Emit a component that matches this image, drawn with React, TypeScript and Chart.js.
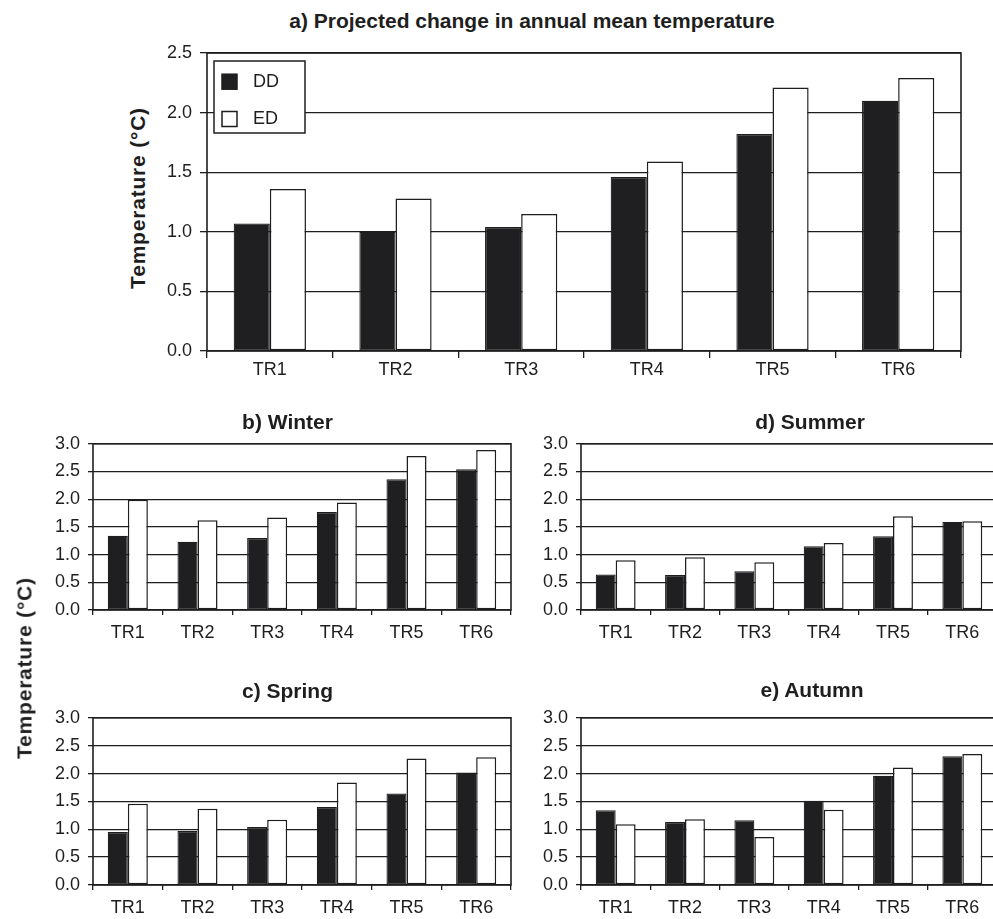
import React, { useEffect, useRef } from "react";
import { Chart, registerables } from "chart.js";

Chart.register(...registerables);

const FONT = '"Liberation Sans", Arial, Helvetica, sans-serif';
const INK = "#1e1e1e";
const DD_FILL = "#1f1f22";
const ED_FILL = "#ffffff";

// ---------- data ----------
const categories = ["TR1", "TR2", "TR3", "TR4", "TR5", "TR6"];
const seriesNames = ["DD", "ED"];

const annualDD = [1.07, 1.0, 1.04, 1.46, 1.82, 2.1];
const annualED = [1.36, 1.28, 1.15, 1.59, 2.21, 2.29];

const winterDD = [1.34, 1.23, 1.3, 1.77, 2.36, 2.54];
const winterED = [1.99, 1.62, 1.67, 1.94, 2.78, 2.89];

const summerDD = [0.64, 0.63, 0.7, 1.15, 1.33, 1.59];
const summerED = [0.9, 0.95, 0.86, 1.21, 1.69, 1.6];

const springDD = [0.95, 0.97, 1.04, 1.4, 1.64, 2.02];
const springED = [1.46, 1.37, 1.17, 1.84, 2.27, 2.29];

const autumnDD = [1.34, 1.13, 1.16, 1.51, 1.96, 2.31];
const autumnED = [1.09, 1.18, 0.86, 1.35, 2.11, 2.35];

const annualMax = 2.5;
const seasonMax = 3.0;
const tickStep = 0.5;

const mainTitle = "a) Projected change in annual mean temperature";
const yAxisTitle = "Temperature (°C)";
const winterTitle = "b) Winter";
const summerTitle = "d) Summer";
const springTitle = "c) Spring";
const autumnTitle = "e) Autumn";

// ---------- plugins ----------
const framePlugin = {
  id: "frame",
  afterDatasetsDraw(chart: any) {
    const { ctx, chartArea: a } = chart;
    ctx.save();
    ctx.strokeStyle = INK;
    ctx.lineWidth = 1.6;
    ctx.strokeRect(a.left, a.top, a.right - a.left, a.bottom - a.top);
    ctx.restore();
  },
};

const boxLegendPlugin = {
  id: "boxLegend",
  afterDraw(chart: any, _args: any, opts: any) {
    if (!opts || !opts.display) return;
    const { ctx, chartArea: a } = chart;
    const x = a.left + 7;
    const y = a.top + 8;
    const w = 91;
    const h = 72;
    ctx.save();
    ctx.fillStyle = "#ffffff";
    ctx.fillRect(x, y, w, h);
    ctx.strokeStyle = INK;
    ctx.lineWidth = 1.5;
    ctx.strokeRect(x, y, w, h);
    ctx.font = `18px ${FONT}`;
    ctx.textBaseline = "middle";
    ctx.textAlign = "left";
    chart.data.datasets.forEach((ds: any, i: number) => {
      const cy = y + 20.7 + i * 37.3;
      ctx.fillStyle = ds.backgroundColor;
      ctx.fillRect(x + 8, cy - 7.5, 15, 15);
      ctx.lineWidth = 1.5;
      ctx.strokeStyle = INK;
      ctx.strokeRect(x + 8, cy - 7.5, 15, 15);
      ctx.fillStyle = INK;
      ctx.fillText(ds.label, x + 39, cy);
    });
    ctx.restore();
  },
};

type Geo = {
  left: number;
  top: number;
  width: number;
  height: number;
  yWidth: number;
  xHeight: number;
  padTop: number;
  padRight: number;
  yTick: number;
  yPad: number;
  xTick: number;
  xPad: number;
  yFont: number;
  xFont: number;
};

function makeConfig(dd: number[], ed: number[], yMax: number, g: Geo, legend: boolean): any {
  return {
    type: "bar",
    data: {
      labels: categories,
      datasets: [
        {
          label: seriesNames[0],
          data: dd,
          backgroundColor: DD_FILL,
          borderColor: INK,
          borderWidth: 1.2,
          borderSkipped: false,
          barPercentage: 1,
          categoryPercentage: 0.575,
        },
        {
          label: seriesNames[1],
          data: ed,
          backgroundColor: ED_FILL,
          borderColor: INK,
          borderWidth: 1.5,
          borderSkipped: false,
          barPercentage: 1,
          categoryPercentage: 0.575,
        },
      ],
    },
    options: {
      responsive: false,
      maintainAspectRatio: false,
      animation: false,
      events: [],
      layout: {
        autoPadding: false,
        padding: { top: g.padTop, right: g.padRight, left: 0, bottom: 0 },
      },
      plugins: {
        legend: { display: false },
        title: { display: false },
        tooltip: { enabled: false },
        boxLegend: { display: legend },
      },
      scales: {
        x: {
          type: "category",
          offset: true,
          grid: {
            display: true,
            offset: true,
            drawOnChartArea: false,
            drawTicks: true,
            tickLength: g.xTick,
            color: INK,
            lineWidth: 1.3,
          },
          border: { display: false },
          ticks: {
            color: INK,
            font: { family: FONT, size: g.xFont },
            padding: g.xPad,
            maxRotation: 0,
            autoSkip: false,
          },
          afterFit: (s: any) => {
            s.height = g.xHeight;
          },
        },
        y: {
          min: 0,
          max: yMax,
          grid: {
            color: INK,
            lineWidth: 1.3,
            drawTicks: true,
            tickLength: g.yTick,
          },
          border: { display: false },
          ticks: {
            stepSize: tickStep,
            color: INK,
            font: { family: FONT, size: g.yFont },
            padding: g.yPad,
            callback: (v: any) => Number(v).toFixed(1),
          },
          afterFit: (s: any) => {
            s.width = g.yWidth;
          },
        },
      },
    },
    plugins: [framePlugin, boxLegendPlugin],
  };
}

function BarPanel(props: { dd: number[]; ed: number[]; yMax: number; g: Geo; legend?: boolean }) {
  const ref = useRef<HTMLCanvasElement | null>(null);
  const { dd, ed, yMax, g, legend } = props;
  useEffect(() => {
    if (!ref.current) return;
    const chart = new Chart(ref.current, makeConfig(dd, ed, yMax, g, !!legend));
    return () => chart.destroy();
  }, []);
  return (
    <canvas
      ref={ref}
      width={g.width}
      height={g.height}
      style={{
        position: "absolute",
        left: g.left,
        top: g.top,
        width: g.width,
        height: g.height,
      }}
    />
  );
}

const mainGeo: Geo = {
  left: 150, top: 33, width: 823, height: 350,
  yWidth: 57, xHeight: 32, padTop: 20, padRight: 12,
  yTick: 7, yPad: 8, xTick: 7, xPad: 1, yFont: 18, xFont: 18,
};

const subBase = {
  yWidth: 60, padTop: 15, yTick: 5, yPad: 8, xTick: 5, xPad: 7.5, yFont: 18, xFont: 18,
};

const winterGeo: Geo = { ...subBase, left: 33, top: 425, width: 486, height: 220, xHeight: 35, padRight: 8 };
const summerGeo: Geo = { ...subBase, left: 521, top: 425, width: 476, height: 220, xHeight: 35, padRight: 0 };
const springGeo: Geo = { ...subBase, left: 33, top: 699, width: 486, height: 221, xHeight: 35, padRight: 8 };
const autumnGeo: Geo = { ...subBase, left: 521, top: 699, width: 476, height: 221, xHeight: 35, padRight: 0 };

function Label(props: { text: string; cx: number; cy: number; size: number; rotate?: boolean; spacing?: number }) {
  const { text, cx, cy, size, rotate, spacing } = props;
  return (
    <div
      style={{
        position: "absolute",
        left: cx,
        top: cy,
        transform: `translate(-50%, -50%)${rotate ? " rotate(-90deg)" : ""}`,
        fontFamily: FONT,
        fontWeight: "bold",
        fontSize: size,
        lineHeight: `${Math.round(size * 1.2)}px`,
        letterSpacing: spacing ? `${spacing}px` : undefined,
        color: INK,
        whiteSpace: "nowrap",
      }}
    >
      {text}
    </div>
  );
}

export default function App() {
  return (
    <div
      style={{
        position: "absolute",
        left: 0,
        top: 0,
        width: 993,
        height: 919,
        overflow: "hidden",
        background: "#ffffff",
      }}
    >
      <BarPanel dd={annualDD} ed={annualED} yMax={annualMax} g={mainGeo} legend />
      <BarPanel dd={winterDD} ed={winterED} yMax={seasonMax} g={winterGeo} />
      <BarPanel dd={summerDD} ed={summerED} yMax={seasonMax} g={summerGeo} />
      <BarPanel dd={springDD} ed={springED} yMax={seasonMax} g={springGeo} />
      <BarPanel dd={autumnDD} ed={autumnED} yMax={seasonMax} g={autumnGeo} />

      <Label text={mainTitle} cx={532} cy={20} size={21} />
      <Label text={yAxisTitle} cx={137} cy={198} size={21} rotate spacing={0.8} />
      <Label text={winterTitle} cx={287.5} cy={421} size={21} />
      <Label text={summerTitle} cx={810} cy={421} size={21} />
      <Label text={springTitle} cx={287.5} cy={690} size={21} />
      <Label text={autumnTitle} cx={812} cy={689} size={21} />
      <Label text={yAxisTitle} cx={23.5} cy={668} size={21} rotate spacing={0.8} />
    </div>
  );
}
